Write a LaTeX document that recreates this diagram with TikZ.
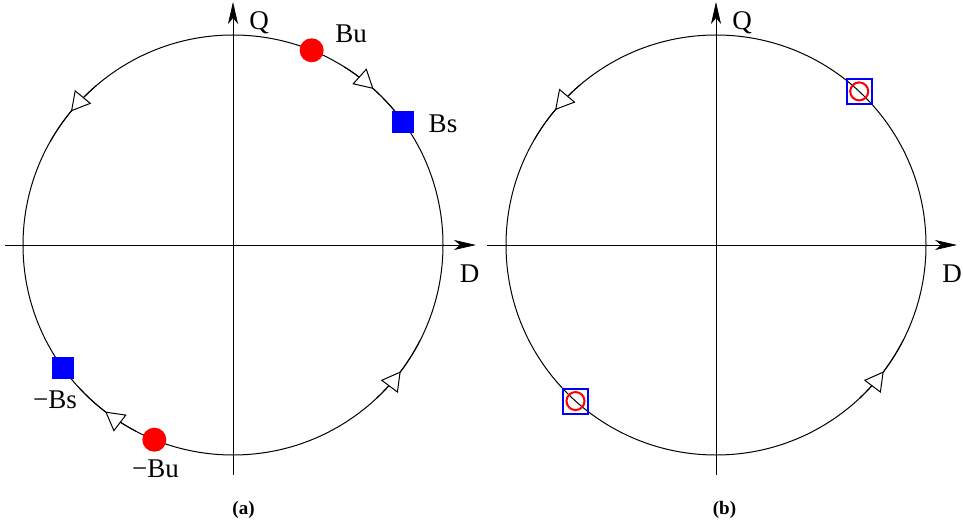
\documentclass[tikz,border=0pt]{standalone}
\usepackage{fontspec}
\setmainfont{Liberation Serif}
\usetikzlibrary{arrows.meta, decorations.markings, positioning}

\begin{document}
\begin{tikzpicture}[x=1pt, y=1pt,
  axis/.style={line width=0.7pt, -{Stealth[length=22pt, width=10pt, inset=6pt]}},
  orbit/.style={line width=1pt},
  flow/.style={orbit, postaction={decorate}, decoration={markings, mark=at position 0.5 with {\arrow{Triangle[length=19pt, width=21pt, fill=white]}}}},
  unstable/.style={circle, fill=red, minimum size=24pt, inner sep=0pt},
  stable/.style={rectangle, fill=blue, minimum size=22pt, inner sep=0pt},
  both/.style={rectangle, draw=blue, line width=2pt, minimum size=25pt, inner sep=0pt},
  ring/.style={circle, draw=red, line width=2pt, minimum size=18pt, inner sep=0pt},
  lab/.style={font=\fontsize{27}{30}\selectfont, inner sep=0pt, anchor=base},
  panellab/.style={font=\fontsize{19}{22}\selectfont\bfseries, inner sep=0pt, anchor=base}]
\useasboundingbox (0,0) rectangle (963,522);

% (a)
\begin{scope}[shift={(233,277)}]
\coordinate (da0) at (-228,0);
\coordinate (da1) at (243,0);
\coordinate (qa0) at (0,-230);
\coordinate (qa1) at (0,243);
\draw[axis] (da0) -- (da1);
\draw[axis] (qa0) -- (qa1);
\draw[orbit] (0,0) circle (210);
\draw[flow] (58:210) arc[start angle=58, end angle=38, radius=210];
\draw[flow] (130.5:210) arc[start angle=130.5, end angle=150.5, radius=210];
\draw[flow] (-47:210) arc[start angle=-47, end angle=-27, radius=210];
\draw[flow] (242.5:210) arc[start angle=242.5, end angle=222.5, radius=210];
\node[unstable] (bu) at (68:210) {};
\node[stable] (bs) at (36:210) {};
\node[stable] (mbs) at (216:210) {};
\node[unstable] (mbu) at (248:210) {};
\end{scope}
\node[lab] (bulab) at (351,479) {Bu};
\node[lab] (bslab) at (443,389) {Bs};
\node[lab] (mbslab) at (55,113) {−Bs};
\node[lab] (mbulab) at (155.5,45) {−Bu};
\node[lab] (qalab) at (259,492) {Q};
\node[lab] (dalab) at (469.5,239) {D};
\node[panellab] (capa) at (243.5,8) {(a)};

% (b)
\begin{scope}[shift={(716,277)}]
\coordinate (db0) at (-229,0);
\coordinate (db1) at (241,0);
\coordinate (qb0) at (0,-230);
\coordinate (qb1) at (0,243);
\draw[axis] (db0) -- (db1);
\draw[axis] (qb0) -- (qb1);
\draw[orbit] (0,0) circle (210);
\draw[flow] (130:210) arc[start angle=130, end angle=150, radius=210];
\draw[flow] (-47:210) arc[start angle=-47, end angle=-27, radius=210];
\node[both] (p1) at (47:210) {};
\node[ring] (r1) at (47:210) {};
\node[both] (p2) at (228:210) {};
\node[ring] (r2) at (228:210) {};
\end{scope}
\node[lab] (qblab) at (742,492) {Q};
\node[lab] (dblab) at (952,239) {D};
\node[panellab] (capb) at (724.5,8) {(b)};
\end{tikzpicture}
\end{document}
